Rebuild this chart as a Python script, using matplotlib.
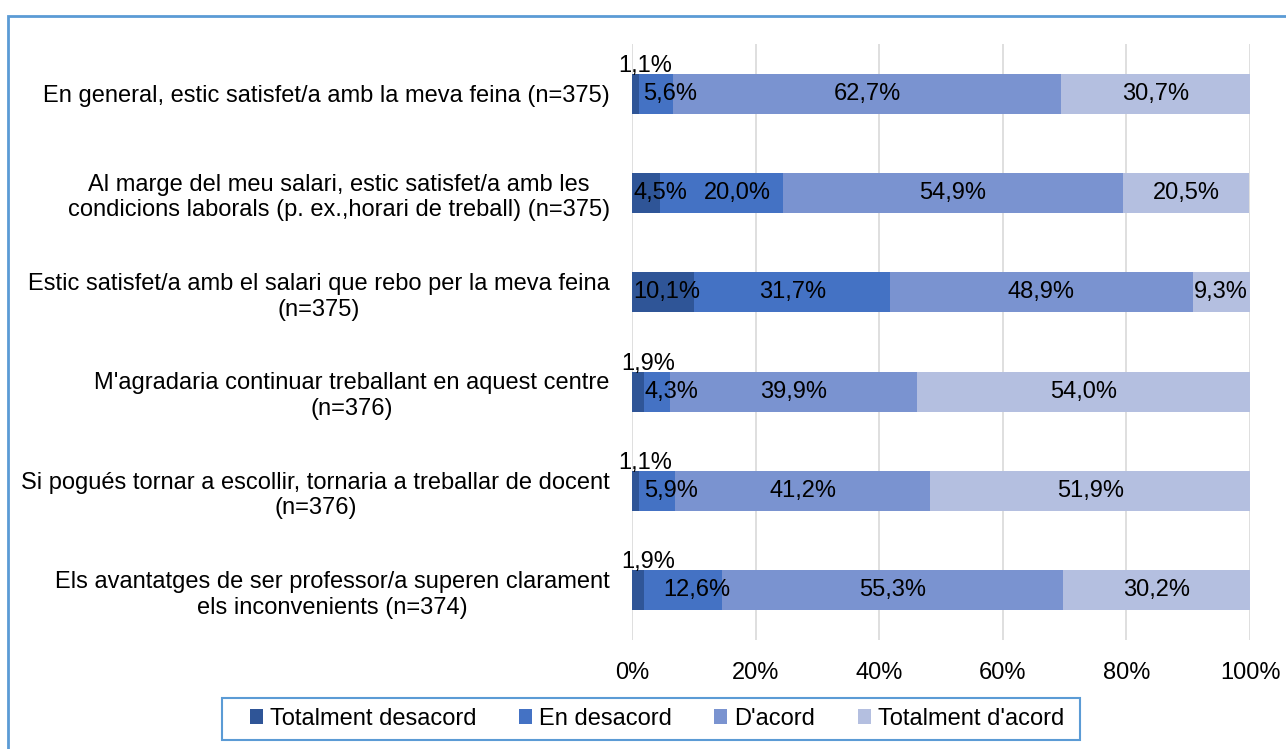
import matplotlib
matplotlib.use("Agg")
import matplotlib.pyplot as plt
from matplotlib.patches import Rectangle, Patch
import numpy as np

plt.rcParams['font.family'] = ['Liberation Sans', 'DejaVu Sans']

categories = [
    "En general, estic satisfet/a amb la meva feina (n=375)",
    "Al marge del meu salari, estic satisfet/a amb les\ncondicions laborals (p. ex.,horari de treball) (n=375)",
    "Estic satisfet/a amb el salari que rebo per la meva feina\n(n=375)",
    "M'agradaria continuar treballant en aquest centre\n(n=376)",
    "Si pogués tornar a escollir, tornaria a treballar de docent\n(n=376)",
    "Els avantatges de ser professor/a superen clarament\nels inconvenients (n=374)",
]
series_names = ["Totalment desacord", "En desacord", "D'acord", "Totalment d'acord"]
totalment_desacord = [1.1, 4.5, 10.1, 1.9, 1.1, 1.9]
en_desacord = [5.6, 20.0, 31.7, 4.3, 5.9, 12.6]
d_acord = [62.7, 54.9, 48.9, 39.9, 41.2, 55.3]
totalment_acord = [30.7, 20.5, 9.3, 54.0, 51.9, 30.2]
xticks = [0, 20, 40, 60, 80, 100]

colors = ["#2F5597", "#4472C4", "#7A93D0", "#B4BFE0"]
FS = 17

fig = plt.figure(figsize=(12.86, 7.49), dpi=100)
ax = fig.add_axes([632/1286, 1-640/749, (1250-632)/1286, (640-44)/749])
ax.set_xlim(0, 100)
ax.set_ylim(5.5, -0.5)

y = np.arange(len(categories))
all_series = [totalment_desacord, en_desacord, d_acord, totalment_acord]
lefts = np.cumsum([np.zeros(len(categories))] + [np.array(s) for s in all_series[:-1]], axis=0)
for vals, l, name, col in zip(all_series, lefts, series_names, colors):
    ax.barh(y, vals, left=l, height=0.4, color=col, label=name, zorder=3)

fig.canvas.draw()
renderer = fig.canvas.get_renderer()
px_per_unit = ax.transData.transform((1, 0))[0] - ax.transData.transform((0, 0))[0]

for yi in range(len(categories)):
    prev_right = None
    first_outside = False
    for si, vals in enumerate(all_series):
        v = vals[yi]
        l = lefts[si][yi]
        txt = f"{v:.1f}%".replace('.', ',')
        if v < 2:
            ax.annotate(txt, (l + v/2, yi - 0.2), xytext=(10, -3), textcoords='offset pixels',
                        ha='center', va='bottom', fontsize=FS, color='#000000', zorder=4)
            first_outside = True
            continue
        t = ax.text(l + v/2, yi, txt, ha='center', va='center', fontsize=FS, color='#000000', zorder=4)
        w = t.get_window_extent(renderer).width / px_per_unit
        cx = l + v/2
        x_left = cx - w/2
        if si == 0:
            x_left = max(x_left, 1/px_per_unit)
        if si == 1 and first_outside:
            x_left += 14/px_per_unit
        if prev_right is not None:
            x_left = max(x_left, prev_right + 17/px_per_unit)
        t.set_x(x_left + w/2)
        prev_right = x_left + w

ax.set_xticks(xticks)
ax.set_xticklabels([f"{t}%" for t in xticks], fontsize=FS)
ax.set_yticks(y)
ax.set_yticklabels(categories, fontsize=FS, ha='right', multialignment='center', linespacing=1.22)
ax.tick_params(axis='both', length=0)
ax.tick_params(axis='y', pad=16)
ax.tick_params(axis='x', pad=16)
for s in ax.spines.values():
    s.set_visible(False)
ax.xaxis.grid(True, color='#D9D9D9', lw=1.2, zorder=0)
ax.set_axisbelow(True)

handles = [Patch(facecolor=c, label=n) for c, n in zip(colors, series_names)]
leg = fig.legend(handles=handles, loc='center', bbox_to_anchor=(657/1286, 1-719/749), ncol=4,
                 fontsize=FS, frameon=False, handlelength=0.55, handleheight=0.6,
                 handletextpad=0.3, columnspacing=1.8, borderpad=0.2, borderaxespad=0)
fig.patches.append(Rectangle((222/1286, 1-740/749), 858/1286, 42/749, transform=fig.transFigure,
                             fill=False, edgecolor='#5B9BD5', lw=1.5, zorder=9))

fig.patches.append(Rectangle((8/1286, -0.1), 1.2, 1 - 16/749 + 0.1, transform=fig.transFigure,
                             fill=False, edgecolor='#5B9BD5', lw=2, zorder=10))

fig.savefig("out.png", dpi=100)
